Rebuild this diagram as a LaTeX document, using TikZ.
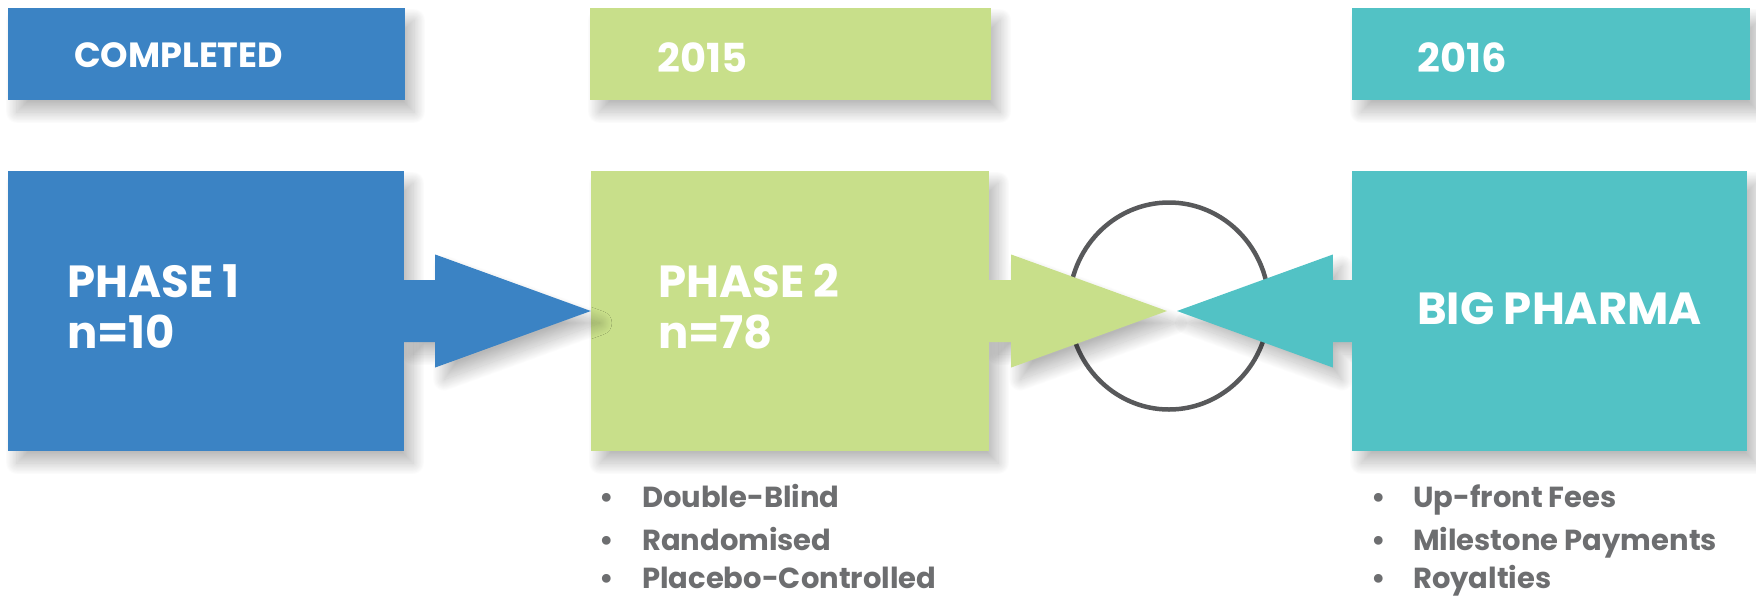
\documentclass[tikz,border=0pt]{standalone}
\usepackage{fontspec}
\setmainfont{Poppins}
\usetikzlibrary{shapes.geometric,shadows.blur,calc}
\definecolor{phaseblue}{HTML}{3B83C4}
\definecolor{phasegreen}{HTML}{C8DF8A}
\definecolor{phaseteal}{HTML}{52C2C5}
\definecolor{listgray}{HTML}{6D6E70}
\definecolor{ringgray}{HTML}{58595B}
\begin{document}
\begin{tikzpicture}[x=1pt,y=-1pt,
  softshadow/.style={blur shadow={shadow xshift=9pt, shadow yshift=-12pt,
      shadow blur radius=12pt, shadow blur steps=40, shadow opacity=28}},
  panel/.style={fill=#1, draw=none, inner sep=0pt, softshadow},
  tagbox/.style={panel=#1, minimum height=92pt},
  stagebox/.style={panel=#1, minimum height=280pt},
  tagtxt/.style={anchor=base west, inner sep=0pt, text=white,
      font=\fontsize{35}{40}\selectfont\bfseries},
  yeartxt/.style={tagtxt, font=\fontsize{40}{46}\selectfont\bfseries},
  stagetxt/.style={anchor=base west, inner sep=0pt, text=white,
      font=\fontsize{45}{52}\selectfont\bfseries},
  listtxt/.style={anchor=base west, inner sep=0pt, text=listgray,
      font=\fontsize{29}{36}\selectfont\bfseries},
  fatarrow/.style={fill=#1, draw=none, line join=round, softshadow},
  repaint/.style={fill=#1, draw=none}
]
\useasboundingbox (0,0) rectangle (1756,595);

% header tags
\node[tagbox=phaseblue,  minimum width=397pt] (tagA) at (206.5,54) {};
\node[tagbox=phasegreen, minimum width=401pt] (tagB) at (790.5,54) {};
\node[tagbox=phaseteal,  minimum width=398pt] (tagC) at (1551,54) {};
\node[tagtxt]  (tagAt) at (74,67)   {COMPLETED};
\node[yeartxt] (tagBt) at (657,72)  {2015};
\node[yeartxt] (tagCt) at (1417,72) {2016};

% ring where the two parties meet
\node[ellipse, draw=ringgray, line width=4.5pt, minimum width=200pt,
      minimum height=207pt, inner sep=0pt] (deal) at (1169,306) {};

% stage panels
\node[stagebox=phaseblue,  minimum width=396pt] (p1) at (206,311) {};
\node[stagebox=phasegreen, minimum width=398pt] (p2) at (790,311) {};
\node[stagebox=phaseteal,  minimum width=395pt] (bp) at (1549.5,311) {};

% block arrows meeting inside the ring
\coordinate (gtip) at (1167,311);
\coordinate (ttip) at (1177,311);

\fill[fatarrow=phasegreen]
  ($(p2.east)+(0,-31)$) -- ($(p2.east)+(22,-31)$) -- ($(p2.east)+(22,-56.5)$)
  -- (gtip) -- ($(p2.east)+(22,56.5)$) -- ($(p2.east)+(22,31)$)
  -- ($(p2.east)+(0,31)$) -- cycle;

\fill[fatarrow=phaseteal]
  ($(bp.west)+(0,-31)$) -- ($(bp.west)+(-19,-31)$) -- ($(bp.west)+(-19,-56.5)$)
  -- (ttip) -- ($(bp.west)+(-19,56.5)$) -- ($(bp.west)+(-19,31)$)
  -- ($(bp.west)+(0,31)$) -- cycle;

% panels sit above the shadows of their own outgoing shafts
\fill[repaint=phasegreen] (p2.north west) rectangle (p2.south east);
\fill[repaint=phaseteal]  (bp.north west) rectangle (bp.south east);

\fill[fatarrow=phaseblue]
  ($(p1.east)+(0,-31)$) -- ($(p1.east)+(31,-31)$) -- ($(p1.east)+(31,-56.5)$)
  -- (p2.west) -- ($(p1.east)+(31,56.5)$) -- ($(p1.east)+(31,31)$)
  -- ($(p1.east)+(0,31)$) -- cycle;

\fill[repaint=phaseblue] (p1.north west) rectangle (p1.south east);

\node[stagetxt] (p1a) at (67,297)   {PHASE 1};
\node[stagetxt] (p1b) at (67,348)   {n=10};
\node[stagetxt] (p2a) at (658,297)  {PHASE 2};
\node[stagetxt] (p2b) at (658,348)  {n=78};
\node[stagetxt] (bpa) at (1417,324) {BIG PHARMA};

% bullet lists
\node[listtxt] (l1) at (599,507) {\makebox[43pt][l]{\textbullet}Double-Blind};
\node[listtxt] (l2) at (599,550) {\makebox[43pt][l]{\textbullet}Randomised};
\node[listtxt] (l3) at (599,588) {\makebox[43pt][l]{\textbullet}Placebo-Controlled};
\node[listtxt] (r1) at (1371,507) {\makebox[42pt][l]{\textbullet}Up-front Fees};
\node[listtxt] (r2) at (1371,550) {\makebox[42pt][l]{\textbullet}Milestone Payments};
\node[listtxt] (r3) at (1371,588) {\makebox[42pt][l]{\textbullet}Royalties};
\end{tikzpicture}
\end{document}
